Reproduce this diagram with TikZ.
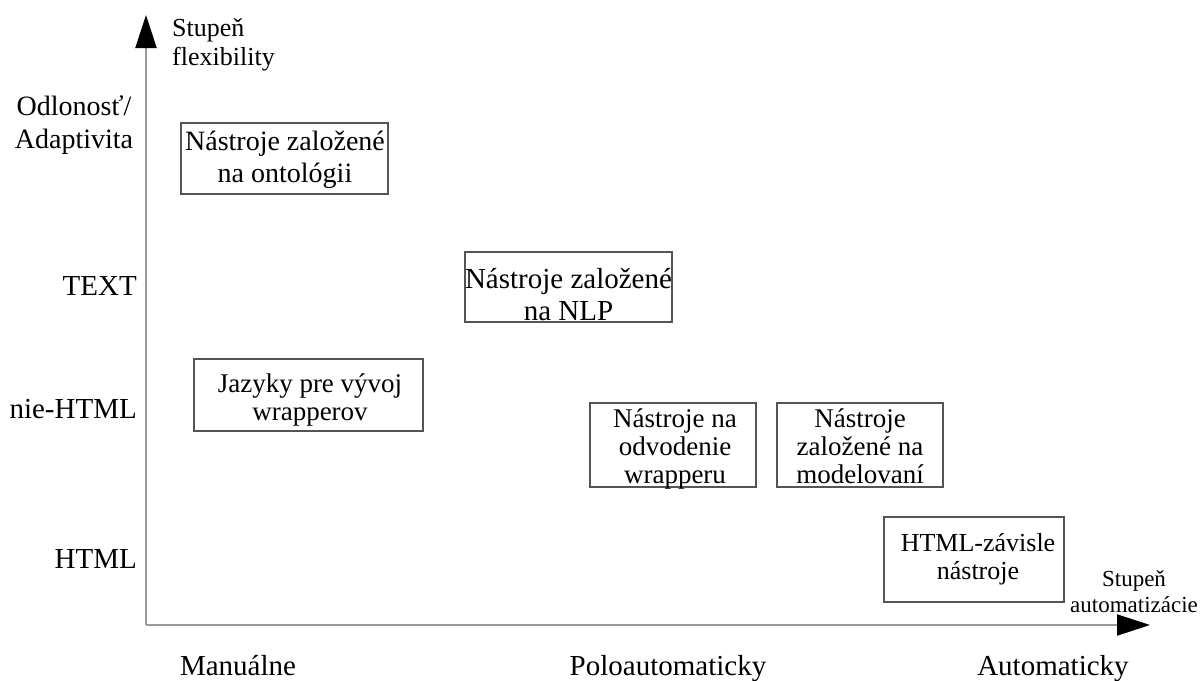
\documentclass[tikz,border=0pt]{standalone}
\usepackage{fontspec}
\setmainfont{Liberation Serif}
\usetikzlibrary{arrows.meta}
\definecolor{axisgray}{HTML}{9A9A9A}
\definecolor{boxgray}{HTML}{555555}
\begin{document}
\begin{tikzpicture}[x=1pt,y=-1pt,
  box/.style={draw=boxgray, line width=1.3pt, inner sep=0pt},
  lbl/.style={font=\fontsize{29}{32}\selectfont, align=center, inner sep=0pt, anchor=base},
  small/.style={font=\fontsize{26}{29}\selectfont, align=left, inner sep=0pt, anchor=base west},
  axis/.style={draw=axisgray, line width=2pt, -{Triangle[length=33pt,width=21pt,color=black]}}]
\useasboundingbox (0,0) rectangle (1204,680);
% axes
\coordinate (O) at (146,625);
\coordinate (ytip) at (146,15);
\coordinate (xtip) at (1150,625);
\draw[axis] (O) -- (ytip);
\draw[axis] (O) -- (xtip);
% axis titles (base anchor = last line)
\node[small] (ytitle) at (172,65) {Stupeň\\flexibility};
\node[lbl, font=\fontsize{23}{26}\selectfont] (xtitle) at (1134,612) {Stupeň\\automatizácie};
% y labels
\node[lbl, font=\fontsize{28}{33}\selectfont] (yl1) at (74,148) {Odlonosť/\\Adaptivita};
\node[lbl, anchor=base east] (yl2) at (137,295) {TEXT};
\node[lbl, anchor=base east] (yl3) at (137,418) {nie-HTML};
\node[lbl, anchor=base east] (yl4) at (137,568) {HTML};
% x labels
\node[lbl] (xl1) at (238,675) {Manuálne};
\node[lbl] (xl2) at (668,675) {Poloautomaticky};
\node[lbl] (xl3) at (1053,675) {Automaticky};
% boxes
\node[box, minimum width=207pt, minimum height=71pt] (b1) at (284.5,158.5) {};
\node[lbl, font=\fontsize{28}{32}\selectfont] (t1) at (285,182) {Nástroje založené\\na ontológii};
\node[box, minimum width=207pt, minimum height=70pt] (b2) at (568.5,287) {};
\node[lbl, font=\fontsize{29}{32}\selectfont] (t2) at (568.5,320) {Nástroje založené\\na NLP};
\node[box, minimum width=229pt, minimum height=72pt] (b3) at (308.5,395) {};
\node[lbl, font=\fontsize{27}{28}\selectfont] (t3) at (310,420) {Jazyky pre vývoj\\wrapperov};
\node[box, minimum width=166pt, minimum height=84pt] (b4) at (673,445) {};
\node[lbl, font=\fontsize{27}{28}\selectfont] (t4) at (675,483) {Nástroje na\\odvodenie\\wrapperu};
\node[box, minimum width=166pt, minimum height=84pt] (b5) at (860,445) {};
\node[lbl, font=\fontsize{27}{28}\selectfont] (t5) at (860,483) {Nástroje\\založené na\\modelovaní};
\node[box, minimum width=180pt, minimum height=85pt] (b6) at (974,559.5) {};
\node[lbl, font=\fontsize{26}{28}\selectfont] (t6) at (978,579) {HTML-závisle\\nástroje};
\end{tikzpicture}
\end{document}
